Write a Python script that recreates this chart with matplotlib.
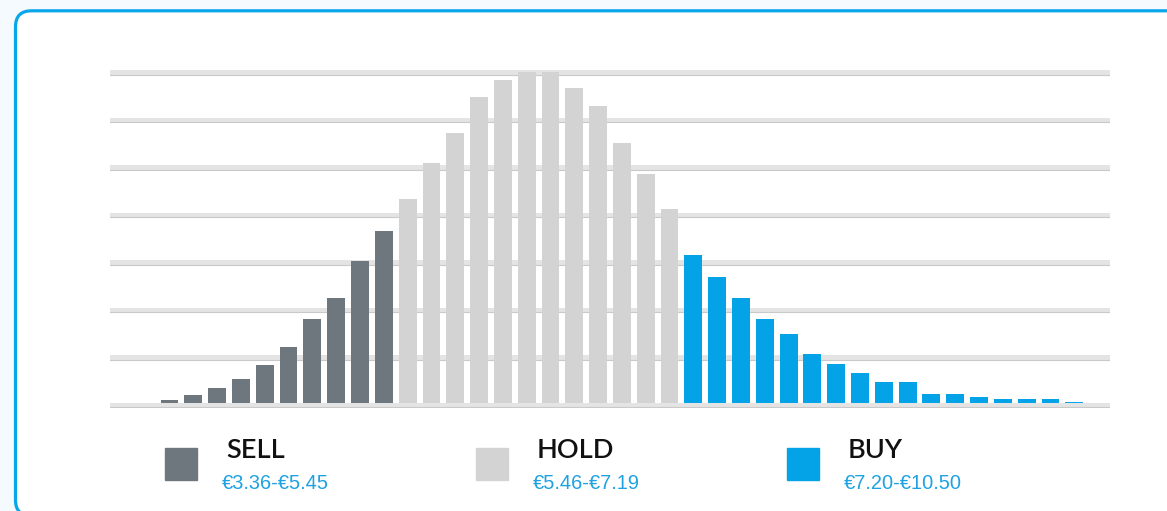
import matplotlib.pyplot as plt
from matplotlib.patches import FancyBboxPatch, Rectangle
from matplotlib.transforms import IdentityTransform
import numpy as np

# bar heights in grid units (one unit = one gridline step)
sell_vals = [0.05, 0.16, 0.31, 0.49, 0.79, 1.17, 1.76, 2.20, 2.98, 3.62]
hold_vals = [4.28, 5.04, 5.68, 6.44, 6.79, 6.96, 6.96, 6.62, 6.24, 5.46, 4.81, 4.07]
buy_vals = [3.11, 2.64, 2.20, 1.76, 1.44, 1.02, 0.81, 0.62, 0.43, 0.43,
            0.18, 0.18, 0.12, 0.08, 0.08, 0.08, 0.02]
lead_empty = 2   # empty bins before the first bar
tail_empty = 1   # empty bins after the last bar

labels = ['SELL', 'HOLD', 'BUY']
ranges = ['€3.36-€5.45', '€5.46-€7.19', '€7.20-€10.50']
colors = ['#6e767e', '#d3d3d3', '#04a3e8']
n_grid = 7

W, H = 1167, 511
fig = plt.figure(figsize=(W / 100, H / 100), dpi=100)
fig.patch.set_facecolor('#f4fafd')

# rounded blue frame, in pixel coords (origin bottom-left)
frame = FancyBboxPatch((15.5, -5), W + 30, H - 10.8 + 5,
                       boxstyle='round,pad=0,rounding_size=16',
                       transform=IdentityTransform(), facecolor='white',
                       edgecolor='#0aa6ea', linewidth=2.3, zorder=-5)
fig.patches.append(frame)

ax = fig.add_axes([110 / W, 1 - 407.9 / H, 1000 / W, (407.9 - 70) / H])
ax.set_facecolor('none')

groups = [sell_vals, hold_vals, buy_vals]
n_bins = lead_empty + sum(len(g) for g in groups) + tail_empty
start = lead_empty
for vals, c in zip(groups, colors):
    x = np.arange(start, start + len(vals))
    ax.bar(x, vals, width=0.75, color=c, linewidth=0, zorder=3)
    start += len(vals)

# thick gridlines with a darker lower edge
for k in range(n_grid + 1):
    ax.axhspan(k - 0.105, k, color='#e4e4e4', linewidth=0, zorder=1)
    ax.axhline(k - 0.095, color='#c9c9c9', linewidth=0.8, zorder=1.5)

ax.set_xlim(-0.5, n_bins - 0.5)
ax.set_ylim(-0.11, n_grid)
ax.axis('off')

# legend
sq_x = [165, 476, 787]
lbl_x = [226, 537, 848]
rng_x = [222, 533, 844]
for i in range(3):
    fig.patches.append(Rectangle((sq_x[i] / W, 1 - 480 / H), 32 / W, 32 / H,
                                 transform=fig.transFigure, color=colors[i]))
    fig.text(lbl_x[i] / W, 1 - 458.3 / H, labels[i], fontsize=19.5,
             family='Lato', fontweight='semibold', color='#111111',
             va='baseline')
    fig.text(rng_x[i] / W, 1 - 489.3 / H, ranges[i], fontsize=14.4,
             family='Liberation Sans', color='#1ea2e2', va='baseline')

fig.savefig('out.png', dpi=100, facecolor=fig.get_facecolor())
